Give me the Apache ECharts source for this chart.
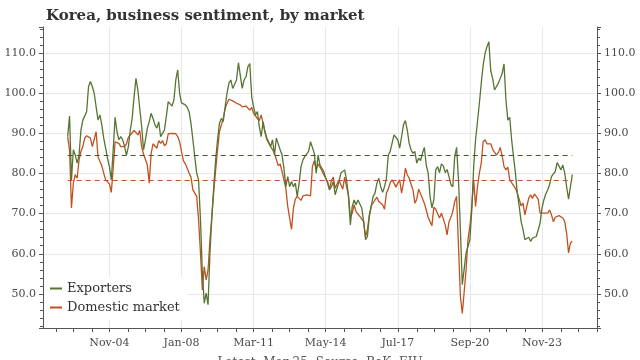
<!DOCTYPE html>
<html>
<head>
<meta charset="utf-8">
<script src="https://cdn.jsdelivr.net/npm/echarts@6/dist/echarts.min.js"></script>
<style>html,body{margin:0;padding:0;background:#fff;}#c{width:640px;height:360px;}</style>
</head>
<body>
<div id="c"></div>
<script>
// Monthly data, Jan-03 .. Mar-25
const firstYear = 2003;
const exporters = [
89.2,94.3,78.4,85.9,84.6,82.6,84.6,90.8,93.3,92.9,
95.4,101.6,102.9,101.6,100,96.6,93.3,94.6,92.1,88.8,
86.3,83.8,81.7,78.4,85.9,94,90.4,88.4,89.2,88.4,
86.7,84.6,86.7,90.8,93.7,99.1,103.7,100.8,96.2,91.7,
85.9,88.4,91.3,92.9,95,93.7,92.1,91.3,92.9,89.2,
88.8,90.8,94.2,97.9,98.1,96.8,98.3,103.3,105.8,100,
97.6,97.5,97.1,96.5,
95.4,92.5,88.4,84.2,80.1,78.4,
68.5,55.2,47.7,50.2,47.3,60.2,69.3,
76.7,83.4,88.4,92.5,93.7,92.9,96.6,100,102.5,103.3,
101.2,100.8,103.3,107.6,107.8,101.2,103.3,104.1,106.6,107.4,
99.1,96.6,94.6,95.4,91.7,89.2,92.9,90.4,88.8,89.2,
86.7,88.4,84.6,88.8,88.4,85.9,84.6,81.3,76.7,79.2,
76.7,78,76.7,77.6,74.3,77.6,81.7,83.4,84.2,84.6,
85.5,87.9,88.1,85,80.1,84.6,82.1,82.4,80.5,78.8,
77.6,75.9,76.7,78,74.7,74.3,78,80.1,80.5,80.9,
78.4,74.3,67.2,71.8,73.4,72.2,73.4,73.8,71.4,68,
63.5,64.3,69.3,71.8,74.3,75.1,77.6,78.8,76.7,75.3,
76.7,78.8,84.6,85.5,85.9,89.6,90,88.4,86.3,89.2,
92.1,93.2,90.8,87.5,85.9,85,85.5,82.6,83.8,83.2,
85,86.5,82.1,80.1,74.3,71.4,73.4,80.9,81.7,80.2,
82.4,81.9,80.2,81,79.2,77.2,76.7,84.2,86.5,78.4,
66,52.3,51.9,60.2,61.8,63.5,70.9,81.7,88.4,92.9,
97.5,102.5,107,109.9,111.6,112.8,105.6,103.7,100.8,100.4,
102.5,103.7,104.9,107.3,98.3,93.3,94,88.4,84.2,80.1,
75.1,71.8,68,66,63.5,63.1,64.1,63.1,63.9,63.5,
64.3,63.9,67.6,71.4,73.4,74.9,75.9,77.2,79.2,79.9,
80.5,82.7,82.4,80.9,82.1,80.1,76.7,73.6,76.7,79.7
];
const domestic = [
89.2,85.9,71.4,77.6,79.7,78.8,83.4,85.5,86.7,88.8,
89.4,89.4,88.8,86.7,86.7,90.4,84.2,83,81.9,80.1,
78.4,78.4,77.4,75.3,81.3,87.9,87.5,87.5,86.7,86.9,
86.7,87.4,89,89.6,89.9,90.7,90.2,89.6,90.7,86.7,
84.8,84.6,82.1,77.6,85,87.4,87.1,86.3,88.2,87.5,
88.2,86.9,87.4,89.9,90.2,90,90,89.9,89.2,87.9,
85.5,83.2,82.4,81.3,
80.1,79.1,75.9,75.5,74.3,68.5,
60.2,51,56.8,53.5,56,63.5,69.3,
75.5,80.9,85.9,90.4,92.1,93.7,96.2,97.5,98.5,98.5,
98.1,97.9,97.5,97.3,97.1,96.6,96.2,96.8,96.6,95.8,
96.5,95,94.6,93.7,93.2,94.6,92.5,90.2,88.4,88.2,
86.7,85.9,85,83.5,81.9,82.4,80.5,78.4,76.3,71.8,
68.9,66.1,71.4,73.6,74.3,74.3,73.3,74.4,74.3,74.7,
74.3,74.4,81.7,83.2,80.9,82.4,81.6,81.3,79.7,79.7,
78,76.1,78.2,79.1,76.3,75.9,78.4,78,76.1,79.1,
76.7,74.7,69.3,70.1,72.2,70.5,70.1,69.3,69.1,68,
64.3,66,69.7,71.9,71.8,73.4,74.1,73,72.6,72.2,
71.1,75.1,76.1,77.7,78.4,77.6,76.6,77.6,78.4,75.1,
77.6,81.3,79.7,78.8,78.4,75.9,72.6,73.6,76.1,76.3,
73.8,72.6,70.9,69.1,68,67,71.6,71.1,71.4,68.9,
70.1,70.5,67.2,64.7,68,69.1,70.5,73,74.3,61.8,
49.4,45.1,45.1,56,63.5,66.8,71.8,78.4,71.8,76.7,
80.1,82.6,87.9,88.4,87.4,87.1,87.4,86,85.9,84.6,
85.2,86.5,84.4,81.7,80.9,81.6,78.4,77.7,78,76.3,
75.1,73.6,71.9,72.6,69.7,71.8,73.8,74.7,73.8,74.9,
74.7,73.6,70.1,70.5,70.1,70.4,70.1,70.9,69.7,68,
69.1,69.5,69.5,69.1,68.9,68,65.1,60.2,62.7,63.1
];
const exportersAverage = 84.5;
const domesticAverage = 78.3;
const xTickLabels = ['Nov-04','Jan-08','Mar-11','May-14','Jul-17','Sep-20','Nov-23'];
const yTickLabels = ['50.0','60.0','70.0','80.0','90.0','100.0','110.0'];

const monthNames = ['Jan','Feb','Mar','Apr','May','Jun','Jul','Aug','Sep','Oct','Nov','Dec'];
const padLeft = 13, padRight = 13;
function monthLabel(m) {
  const y = firstYear + Math.floor(m / 12);
  const mo = ((m % 12) + 12) % 12;
  return monthNames[mo] + '-' + String(y % 100).padStart(2, '0');
}
const n = exporters.length;
const cats = [];
for (let m = -padLeft; m < n + padRight; m++) cats.push(monthLabel(m));
function pad(arr) {
  const out = [];
  for (let i = 0; i < padLeft; i++) out.push(null);
  arr.forEach(v => out.push(v));
  for (let i = 0; i < padRight; i++) out.push(null);
  return out;
}
const labelIdx = new Set(xTickLabels.map(l => cats.indexOf(l)));
const baseIdx = cats.indexOf(xTickLabels[0]);
const tickFn = (i) => Math.floor((i - baseIdx) / 9.5) !== Math.floor((i - baseIdx - 1) / 9.5);
const labelFn = (i) => labelIdx.has(i);

const serif = '"DejaVu Serif", "Liberation Serif", serif';
const chart = echarts.init(document.getElementById('c'), null, {renderer: 'canvas'});
const yCommon = {
  type: 'value', min: 41.5, max: 116.5, splitNumber: 8,
  axisLine: {show: true, lineStyle: {color: '#555', width: 1}},
  axisTick: {show: true, length: 4, lineStyle: {color: '#555'}},
  minorTick: {show: true, splitNumber: 5, length: 3, lineStyle: {color: '#555'}},
  axisLabel: {
    fontFamily: serif, fontSize: 11, color: '#4a4a4a', margin: 7,
    formatter: v => { const s = v.toFixed(1); return yTickLabels.indexOf(s) >= 0 ? s : ''; }
  }
};
chart.setOption({
  animation: false,
  backgroundColor: '#fff',
  title: {
    text: 'Korea, business sentiment, by market',
    left: 41, top: 4,
    textStyle: {fontFamily: serif, fontWeight: 'bold', fontSize: 15, color: '#333'}
  },
  legend: {
    orient: 'vertical', left: 45, top: 277,
    backgroundColor: '#fff', padding: [5, 8, 6, 5], itemGap: 6,
    itemWidth: 12, itemHeight: 2, icon: 'rect',
    textStyle: {fontFamily: serif, fontSize: 13, color: '#333'},
    data: ['Exporters', 'Domestic market']
  },
  grid: {left: 43, right: 43, top: 27, bottom: 32, containLabel: false},
  xAxis: {
    type: 'category', data: cats, boundaryGap: false,
    axisLine: {show: true, lineStyle: {color: '#555', width: 1}},
    axisTick: {show: true, length: 4, interval: tickFn, lineStyle: {color: '#555'}},
    axisLabel: {interval: labelFn, fontFamily: serif, fontSize: 11, color: '#4a4a4a', margin: 10},
    splitLine: {show: true, interval: labelFn, lineStyle: {color: '#e8e8e8', width: 1}}
  },
  yAxis: [
    Object.assign({}, yCommon, {position: 'left',
      splitLine: {show: true, showMinLine: false, showMaxLine: false, lineStyle: {color: '#e8e8e8', width: 1}}}),
    Object.assign({}, yCommon, {position: 'right', splitLine: {show: false}})
  ],
  series: [
    {
      name: 'Exporters', type: 'line', data: pad(exporters), yAxisIndex: 0,
      showSymbol: false, symbol: 'none', z: 3,
      lineStyle: {color: '#557533', width: 1.3}, itemStyle: {color: '#557533'},
      markLine: {
        silent: true, symbol: 'none', label: {show: false},
        lineStyle: {color: '#4d5528', type: [5, 4], width: 1.2},
        data: [[{coord: [cats[padLeft], exportersAverage]}, {coord: [cats[padLeft + n - 1], exportersAverage]}]]
      }
    },
    {
      name: 'Domestic market', type: 'line', data: pad(domestic), yAxisIndex: 0,
      showSymbol: false, symbol: 'none', z: 2,
      lineStyle: {color: '#c0521f', width: 1.3}, itemStyle: {color: '#c0521f'},
      markLine: {
        silent: true, symbol: 'none', label: {show: false},
        lineStyle: {color: '#b8552a', type: [5, 4], width: 1.2},
        data: [[{coord: [cats[padLeft], domesticAverage]}, {coord: [cats[padLeft + n - 1], domesticAverage]}]]
      }
    }
  ],
  graphic: [{
    type: 'text', left: 'center', top: 357,
    style: {text: 'Latest: Mar-25; Source: BoK, EIU', font: '12px ' + serif, fill: '#555'}
  }]
});
</script>
</body>
</html>
